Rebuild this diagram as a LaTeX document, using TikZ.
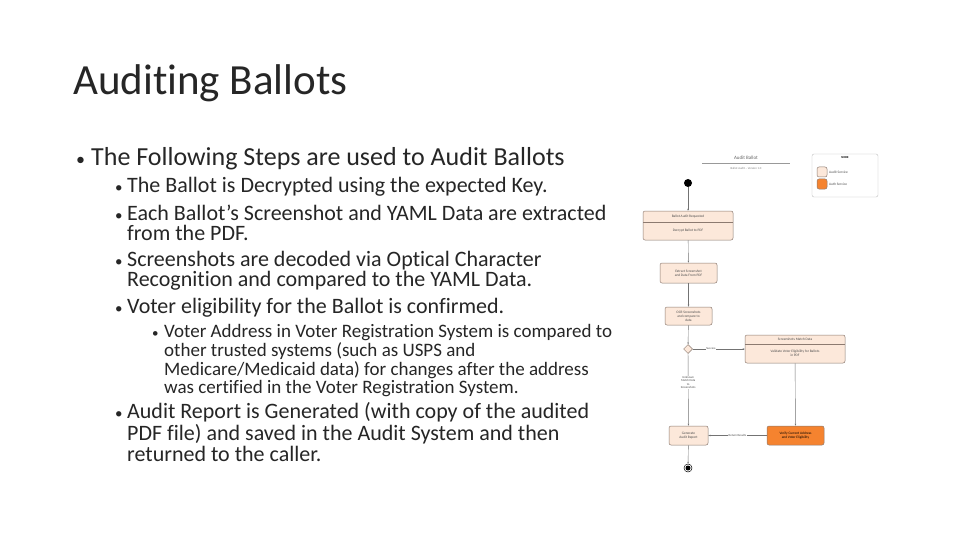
\documentclass[tikz,border=0pt]{standalone}
\usepackage{fontspec}
\setmainfont{Carlito}[RawFeature=-liga]
\usetikzlibrary{arrows.meta,shapes.geometric}
\definecolor{lfill}{HTML}{FCE8DA}
\definecolor{lborder}{HTML}{8C7A70}
\definecolor{ofill}{HTML}{F5832F}
\definecolor{txt}{HTML}{262626}
\begin{document}
\begin{tikzpicture}[x=1pt,y=-1pt,
  bul/.style={anchor=base west,inner sep=0,text=txt},
  st/.style={draw=lborder,fill=lfill,rounded corners=2pt,line width=0.5pt},
  tiny/.style={font=\fontsize{3.5}{4}\selectfont,align=center,inner sep=0,text=black!70},
  ed/.style={draw=black!55,line width=0.4pt,-{Stealth[length=2pt]}},
  lbl/.style={font=\fontsize{3}{3.5}\selectfont,align=center,inner sep=0.5pt,fill=white,text=black!70}]
\useasboundingbox[fill=white] (0,0) rectangle (960,540);
\node[bul,font=\fontsize{43}{44}\selectfont] (title) at (73,95) {Auditing Ballots};
\begin{scope}[font=\fontsize{26}{28}\selectfont]
\node[bul] (l1m) at (76,166) {\fontsize{18}{18}\selectfont•};
\node[bul] (l1) at (91,166) {The Following Steps are used to Audit Ballots};
\end{scope}
\begin{scope}[font=\fontsize{22}{24}\selectfont]
\foreach \y in {193,220,266,313,418} \node[bul,font=\fontsize{15}{15}\selectfont] at (115,\y) {•};
\node[bul] (b1) at (127,193) {The Ballot is Decrypted using the expected Key.};
\node[bul] (b2) at (127,220) {Each Ballot’s Screenshot and YAML Data are extracted};
\node[bul] (b2b) at (127,240) {from the PDF.};
\node[bul] (b3) at (127,266) {Screenshots are decoded via Optical Character};
\node[bul] (b3b) at (127,286) {Recognition and compared to the YAML Data.};
\node[bul] (b4) at (127,313) {Voter eligibility for the Ballot is confirmed.};
\node[bul] (b6) at (127,418) {Audit Report is Generated (with copy of the audited};
\node[bul] (b6b) at (127,440) {PDF file) and saved in the Audit System and then};
\node[bul] (b6c) at (127,461) {returned to the caller.};
\end{scope}
\begin{scope}[font=\fontsize{19}{21}\selectfont]
\node[bul,font=\fontsize{13}{13}\selectfont] at (152,337) {•};
\node[bul] (c1) at (164,337) {Voter Address in Voter Registration System is compared to};
\node[bul] (c2) at (164,356) {other trusted systems (such as USPS and};
\node[bul] (c3) at (164,375) {Medicare/Medicaid data) for changes after the address};
\node[bul] (c4) at (164,393) {was certified in the Voter Registration System.};
\end{scope}
% diagram
\node[font=\fontsize{5}{5}\selectfont,text=black!60] (dt) at (746,158) {Audit Ballot};
\draw[black!40,line width=0.4pt] (702,163) -- (790,163);
\node[font=\fontsize{3}{3}\selectfont,text=black!50] (ds) at (746,168) {Ballot Audit -- Version 1.0};
\draw[black!25,rounded corners=2pt,line width=0.4pt] (812,154) rectangle (878,197);
\node[font=\fontsize{3}{3}\selectfont\bfseries] (lt) at (845,158) {NODE};
\draw[st] (817,167) rectangle (827,177);
\node[tiny,anchor=west] (la) at (829,172) {Audit Service};
\draw[st,fill=ofill] (817,179) rectangle (827,189);
\node[tiny,anchor=west] (lb) at (829,184) {Auth Service};
\node[circle,fill=black,inner sep=0,minimum size=8pt] (start) at (688,183) {};
\node[st,minimum width=90pt,minimum height=29pt,inner sep=0] (s1) at (688,225.5) {};
\draw[lborder,line width=0.5pt] (643,222) -- (733,222);
\node[tiny] (s1a) at (688,216.5) {Ballot Audit Requested};
\node[tiny] (s1b) at (688,231) {Decrypt Ballot to PDF};
\node[st,minimum width=57pt,minimum height=20pt,inner sep=0,tiny] (s2) at (688.5,273) {Extract Screenshot\\and Data From PDF};
\node[st,minimum width=47pt,minimum height=18pt,inner sep=0,tiny] (s3) at (688.5,316) {OCR Screenshots\\and compare to\\data};
\node[diamond,draw=lborder,fill=lfill,inner sep=0,minimum size=9pt,line width=0.5pt] (d) at (688,349) {};
\node[st,minimum width=100pt,minimum height=28pt,inner sep=0] (s4) at (795,349) {};
\draw[lborder,line width=0.5pt] (745,344) -- (845,344);
\node[tiny] (s4a) at (795,339.5) {Screenshots Match Data};
\node[tiny] (s4b) at (795,353.5) {Validate Voter Eligibility for Ballots\\in PDF};
\node[st,minimum width=39pt,minimum height=19pt,inner sep=0,tiny] (s5) at (688.5,435.5) {Generate\\Audit Report};
\node[st,fill=ofill,minimum width=57pt,minimum height=19pt,inner sep=0,tiny,text=black] (s6) at (795.5,435.5) {Verify Current Address\\and Voter Eligibility};
\node[circle,draw=black,line width=0.5pt,inner sep=0,minimum size=8pt] (end) at (688,468) {};
\node[circle,fill=black,inner sep=0,minimum size=5pt] (endi) at (688,468) {};
\draw[ed] (start) -- (s1);
\draw[ed] (s1) -- (s2);
\draw[ed] (s2) -- (s3);
\draw[ed] (s3) -- (d);
\draw[ed] (d) -- node[lbl,pos=0.35] {Success} (s4);
\draw[ed] (d) -- node[lbl,pos=0.4] {Unknown\\Match Data\\to\\Screenshots} (s5);
\draw[ed] (s4) -- (s6);
\draw[ed] (s6) -- node[lbl] {Return Results} (s5);
\draw[ed] (s5) -- (end);
\end{tikzpicture}
\end{document}
